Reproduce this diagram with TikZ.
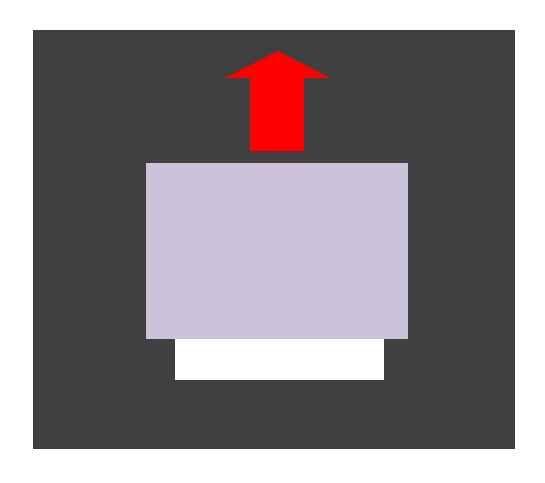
\documentclass[tikz,border=0pt]{standalone}
\definecolor{darkbg}{HTML}{404040}
\definecolor{lav}{HTML}{CBC3DA}
\tikzset{panel/.style={fill=darkbg,draw=none},
  boxfill/.style={fill=lav,draw=none},
  slot/.style={fill=white,draw=none},
  uparrow/.style={fill=red,draw=none}}
\begin{document}
\begin{tikzpicture}[x=0.75pt,y=-0.75pt]
\useasboundingbox[fill=white] (0,0) rectangle (545,482);
\fill[panel] (33,30) rectangle (515,449);
\fill[boxfill] (146,163) rectangle (408,339);
\fill[slot] (175,339) rectangle (384,380);
\fill[uparrow] (250,151) -- (250,78) -- (225,78) -- (278,51) -- (330,78) -- (304,78) -- (304,151) -- cycle;
\end{tikzpicture}
\end{document}
